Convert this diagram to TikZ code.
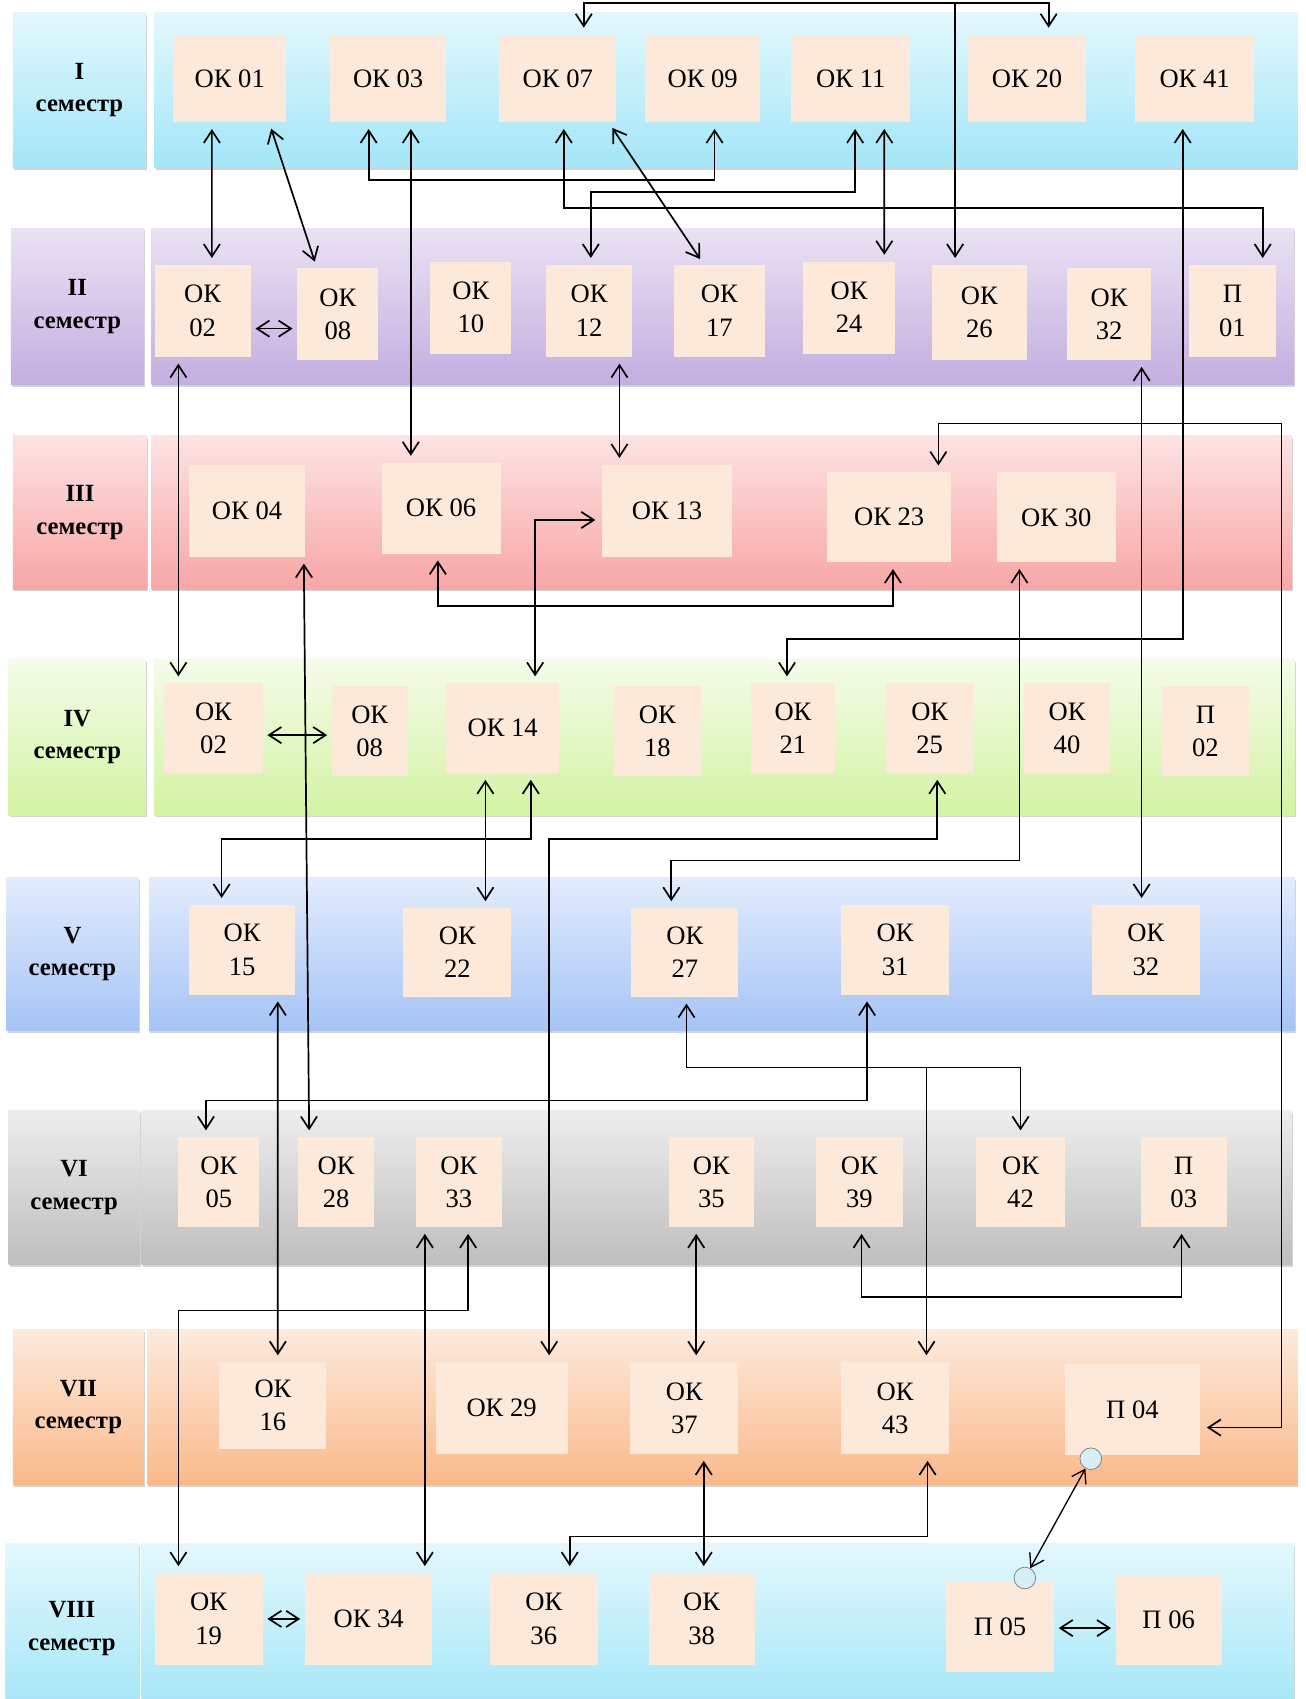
\documentclass[tikz,border=0pt]{standalone}
\usepackage{fontspec}
\setmainfont{Liberation Serif}
\usetikzlibrary{positioning,arrows.meta,calc,shadows}
\definecolor{peach}{HTML}{FDE9D9}
\definecolor{cyanT}{HTML}{E3F8FD}
\definecolor{cyanB}{HTML}{A3E6F8}
\definecolor{lilacT}{HTML}{EAE2F4}
\definecolor{lilacB}{HTML}{C3AEE0}
\definecolor{roseT}{HTML}{FDE3E3}
\definecolor{roseB}{HTML}{F8A6A6}
\definecolor{limeT}{HTML}{F4FCE9}
\definecolor{limeB}{HTML}{D3F3A3}
\definecolor{skyT}{HTML}{E2ECFC}
\definecolor{skyB}{HTML}{A6C4F6}
\definecolor{greyT}{HTML}{EDEDED}
\definecolor{greyB}{HTML}{BEBEBE}
\definecolor{apriT}{HTML}{FDEADC}
\definecolor{apriB}{HTML}{FAB98A}
\definecolor{dotblue}{HTML}{D8EEF6}

\begin{document}
\begin{tikzpicture}[x=0.02cm,y=-0.02cm,
    box/.style={fill=peach,inner sep=0pt,align=center,font=\fontsize{14}{17.5}\selectfont},
    semtext/.style={align=center,font=\bfseries\fontsize{13}{17}\selectfont},
    band/.style={drop shadow={shadow xshift=0.6pt,shadow yshift=-1.2pt,opacity=0.35}},
    link/.style={line width=0.9pt,{Straight Barb[length=2.3mm,width=3mm]}-{Straight Barb[length=2.3mm,width=3mm]},shorten <=0.12cm,shorten >=0.12cm},
    onelink/.style={link,-{Straight Barb[length=2.3mm,width=3mm]},shorten <=0pt},
    shortlink/.style={link,shorten <=0.08cm,shorten >=0.08cm},
    dot/.style={circle,draw=gray,fill=dotblue,inner sep=0pt,minimum size=0.4cm}]
    \useasboundingbox (0,0) rectangle (1208,1571.6);

    \foreach \k/\rom/\la/\lb/\ba/\bb/\ya/\yb/\ct/\cb in {
        1/I/12/135/143/1200/12/155/cyanT/cyanB,
        2/II/10/133/140/1197/211/356/lilacT/lilacB,
        3/III/12/136/140/1195/403/545/roseT/roseB,
        4/IV/8/135/143/1198/610/754/limeT/limeB,
        5/V/6/128/138/1198/812/953/skyT/skyB,
        6/VI/8/129/131/1195/1027/1170/greyT/greyB,
        7/VII/12/133/136/1200/1230/1373/apriT/apriB,
        8/VIII/5/128/131/1197/1428/1585/cyanT/cyanB}{
        \path[band,top color=\ct,bottom color=\cb] (\ba,\ya) rectangle (\bb,\yb);
        \node[band,semtext,top color=\ct,bottom color=\cb,minimum width={(\lb-\la)*0.02cm},minimum height={(\yb-\ya)*0.02cm}] (sem\k) at ({(\la+\lb)/2},{(\ya+\yb)/2}) {\rom\\семестр};
    }

    \foreach \nm/\xa/\ya/\xb/\yb/\txt in {
        ok01/160/32/265/113/{ОК 01}, ok03/305/32/413/113/{ОК 03}, ok07/462/32/570/113/{ОК 07},
        ok09/597/32/703/113/{ОК 09}, ok11/732/32/842/113/{ОК 11}, ok20/895/32/1005/113/{ОК 20},
        ok41/1050/32/1160/113/{ОК 41},
        ok02/143/245/232/330/{ОК\\02}, ok08/275/248/350/333/{ОК\\08}, ok10/398/242/473/327/{ОК\\10},
        ok12/505/245/585/330/{ОК\\12}, ok17/623/245/708/330/{ОК\\17}, ok24/743/242/828/327/{ОК\\24},
        ok26/862/245/950/333/{ОК\\26}, ok32/987/248/1065/333/{ОК\\32}, p01/1100/245/1180/330/{П\\01},
        ok04/175/430/282/515/{ОК 04}, ok06/353/428/463/512/{ОК 06}, ok13/557/430/677/515/{ОК 13},
        ok23/765/437/880/520/{ОК 23}, ok30/922/437/1032/520/{ОК 30},
        ok02iv/152/632/243/715/{ОК\\02}, ok08iv/307/635/377/718/{ОК\\08}, ok14/413/632/517/715/{ОК 14},
        ok18/568/635/648/718/{ОК\\18}, ok21/695/632/772/715/{ОК\\21}, ok25/820/632/900/715/{ОК\\25},
        ok40/947/632/1027/715/{ОК\\40}, p02/1075/635/1155/718/{П\\02},
        ok15/175/837/273/920/{ОК\\15}, ok22/373/840/473/922/{ОК\\22}, ok27/584/840/683/922/{ОК\\27},
        ok31/778/837/878/920/{ОК\\31}, ok32v/1010/837/1110/920/{ОК\\32},
        ok05/165/1052/240/1135/{ОК\\05}, ok28/276/1052/346/1135/{ОК\\28}, ok33/385/1052/464/1135/{ОК\\33},
        ok35/619/1052/697/1135/{ОК\\35}, ok39/755/1052/835/1135/{ОК\\39}, ok42/903/1052/985/1135/{ОК\\42},
        p03/1055/1052/1135/1135/{П\\03},
        ok16/203/1260/302/1340/{ОК\\16}, ok29/403/1260/525/1345/{ОК 29}, ok37/583/1260/683/1345/{ОК\\37},
        ok43/778/1260/878/1345/{ОК\\43}, p04/985/1262/1110/1346/{П 04},
        ok19/143/1455/243/1540/{ОК\\19}, ok34/282/1455/400/1540/{ОК 34}, ok36/453/1455/553/1540/{ОК\\36},
        ok38/600/1455/698/1540/{ОК\\38}, p05/875/1462/975/1547/{П 05}, p06/1032/1457/1130/1540/{П 06}}{
        \node[box,minimum width={(\xb-\xa)*0.02cm},minimum height={(\yb-\ya)*0.02cm}] (\nm) at ({(\xa+\xb)/2},{(\ya+\yb)/2}) {\txt};
    }

    % I - II
    \draw[link] ($(ok01.south)+(-16.5,0)$) -- ($(ok02.north)+(8.5,0)$);
    \draw[link] ($(ok01.south)+(36.5,0)$) -- ($(ok08.north)+(-19.5,0)$);
    \draw[shortlink] ($(ok02.east)+(0,16.5)$) -- ($(ok08.west)+(0,13.5)$);
    \draw[link] ($(ok03.south)+(-18,0)$) -- ++(0,53) -| ($(ok09.south)+(11,0)$);
    \draw[link] ($(ok03.south)+(21,0)$) -- ($(ok06.north)+(-28,0)$);
    \draw[link] ($(ok07.south)+(5.5,0)$) -- ++(0,79) -| ($(p01.north)+(28,0)$);
    \draw[link] ($(ok11.south)+(4,0)$) -- ++(0,64) -| ($(ok12.north)+(1.5,0)$);
    \draw[link] ($(ok07.south)+(47,0)$) -- ($(ok17.north)+(-14.5,0)$);
    \draw[link] ($(ok11.south)+(31,0)$) -- ($(ok24.north)+(32.5,0)$);
    \draw[link] ($(ok07.north)+(24,0)$) -- ++(0,-29) -| ($(ok20.north)+(20,0)$);
    \draw[onelink] ($(ok26.north)+(-22.5,-242)$) -- ($(ok26.north)+(-22.5,0)$);
    \draw[link] ($(ok41.south)+(-11,0)$) -- ++(0,478) -| ($(ok21.north)+(-5.5,0)$);
    % II - IV
    \draw[link] ($(ok02.south)+(-22.5,0)$) -- ($(ok02iv.north)+(-32.5,0)$);
    \draw[link] ($(ok12.south)+(28,0)$) -- ($(ok13.north)+(-44,0)$);
    \draw[link] ($(ok32.south)+(30,0)$) -- ($(ok32v.north)+(-4,0)$);
    \draw[link] ($(ok04.south)+(52.5,0)$) -- ($(ok28.north)+(-25,0)$);
    \draw[link] ($(ok06.south)+(-3,0)$) -- ++(0,48) -| ($(ok23.south)+(3.5,0)$);
    \draw[link] ($(ok14.north)+(30,0)$) |- ($(ok13.west)+(0,8.5)$);
    \draw[link] ($(p04.east)+(0,16.5)$) -- ++(75,0) |- ($(ok23.north)+(45.5,-45)$) -- ($(ok23.north)+(45.5,0)$);
    \draw[shortlink] ($(ok02iv.east)+(0,6.5)$) -- ($(ok08iv.west)+(0,3.5)$);
    % IV - VI
    \draw[link] ($(ok14.south)+(-16,0)$) -- ($(ok22.north)+(26,0)$);
    \draw[link] ($(ok14.south)+(26,0)$) -- ++(0,61) -| ($(ok15.north)+(-19,0)$);
    \draw[link] ($(ok25.south)+(7,0)$) -- ++(0,61) -| ($(ok29.north)+(44,0)$);
    \draw[link] ($(ok30.south)+(-34,0)$) -- ++(0,275.5) -| ($(ok27.north)+(-12.5,0)$);
    \draw[link] ($(ok27.south)+(1.5,0)$) -- ++(0,65) -| (ok42.north);
    \draw[onelink] ($(ok43.north)+(29,-273)$) -- ($(ok43.north)+(29,0)$);
    \draw[link] ($(ok31.south)+(-26,0)$) -- ++(0,97.5) -| ($(ok05.north)+(-12,0)$);
    \draw[link] ($(ok15.south)+(33,0)$) -- ($(ok16.north)+(4.5,0)$);
    % VI - VIII
    \draw[link] ($(ok33.south)+(-31.5,0)$) -- ($(ok34.north)+(52,0)$);
    \draw[link] ($(ok33.south)+(8.5,0)$) -- ++(0,77) -| ($(ok19.north)+(-28,0)$);
    \draw[link] ($(ok35.south)+(-14,0)$) -- ($(ok37.north)+(11,0)$);
    \draw[link] ($(ok39.south)+(2,0)$) -- ++(0,64.5) -| ($(p03.south)+(-2,0)$);
    \draw[link] ($(ok37.south)+(18,0)$) -- ($(ok38.north)+(2,0)$);
    \draw[link] ($(ok43.south)+(30,0)$) -- ++(0,76) -| ($(ok36.north)+(24,0)$);
    \draw[shortlink] (ok19.east) -- (ok34.west);
    \draw[shortlink] ($(p05.east)+(0,1.5)$) -- ($(p06.west)+(0,7.5)$);
    \node[dot] (d1) at ($(p04.south)+(-38.5,3)$) {};
    \node[dot] (d2) at ($(p05.north)+(23,-2)$) {};
    \draw[link,line width=0.7pt,shorten <=0pt,shorten >=0pt] (d1) -- (d2);
\end{tikzpicture}
\end{document}
